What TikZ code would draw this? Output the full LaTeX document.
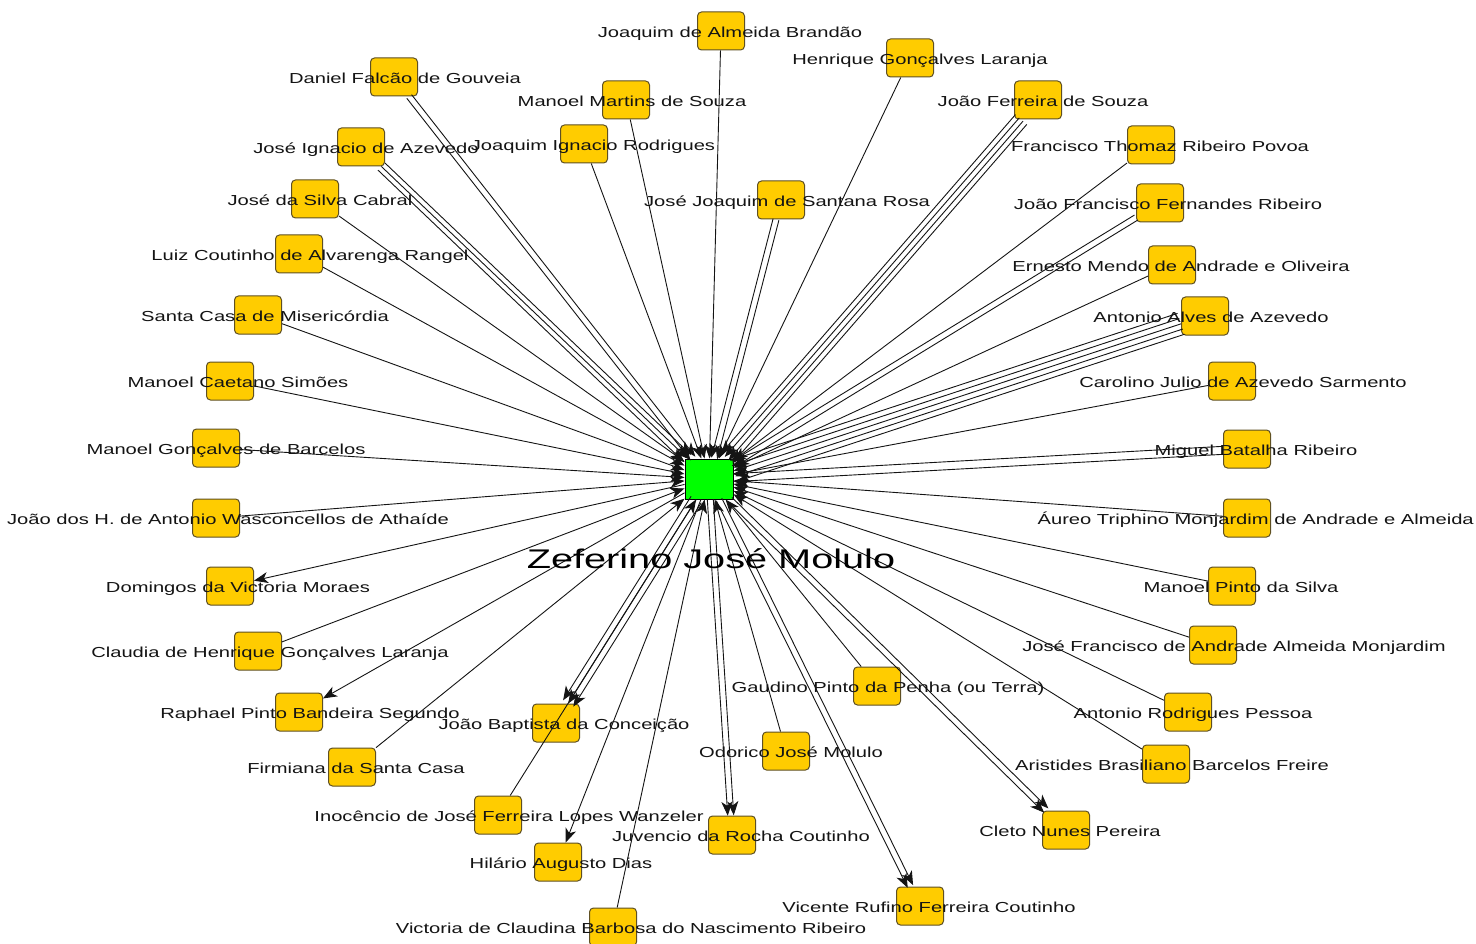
\documentclass[tikz,border=0pt]{standalone}
\usepackage{fontspec}
\setmainfont{Liberation Sans}
\newfontfamily\namefont[FakeStretch=1.39]{Liberation Sans}
\newfontfamily\hubfont[FakeStretch=1.47]{Liberation Sans}
\usetikzlibrary{arrows.meta,calc}

\definecolor{boxfill}{RGB}{255,204,0}
\definecolor{boxline}{RGB}{95,80,35}
\definecolor{hubfill}{RGB}{0,255,0}
\definecolor{ink}{RGB}{20,20,20}

% parallel connectors between two nodes, shifted sideways by the given offsets
\newcommand\bundle[4]{%
  \foreach \o in {#3}{%
    \begin{scope}[transform canvas={shift={($(#1)!\o pt!90:(#2)-(#1)$)}}]
      \draw[#4] (#1) -- (#2);
    \end{scope}}}

% id / box x / box y / label x / name
\def\people{%
almeida/721/31/730/Joaquim de Almeida Brandão,
henrique/910/58/920/Henrique Gonçalves Laranja,
daniel/394/77/405/Daniel Falcão de Gouveia,
martins/626/100/632/Manoel Martins de Souza,
ferreira/1038/100/1043/João Ferreira de Souza,
ignacio/361/147/366/José Ignacio de Azevedo,
rodrigues/584/144/593/Joaquim Ignacio Rodrigues,
thomaz/1151/145/1160/Francisco Thomaz Ribeiro Povoa,
cabral/315/199/320/José da Silva Cabral,
santana/781/200/787/José Joaquim de Santana Rosa,
fernandes/1160/203/1168/João Francisco Fernandes Ribeiro,
luiz/299/254/310/Luiz Coutinho de Alvarenga Rangel,
ernesto/1172/265/1181/Ernesto Mendo de Andrade e Oliveira,
santacasa/258/315/265/Santa Casa de Misericórdia,
alves/1205/316/1211/Antonio Alves de Azevedo,
caetano/230/381/238/Manoel Caetano Simões,
carolino/1232/381/1243/Carolino Julio de Azevedo Sarmento,
barcelos/216/448/226/Manoel Gonçalves de Barcelos,
miguel/1247/449/1256/Miguel Batalha Ribeiro,
athaide/216/518/228/João dos H. de Antonio Wasconcellos de Athaíde,
domingos/230/586/238/Domingos da Victoria Moraes,
pinto/1232/586/1241/Manoel Pinto da Silva,
claudia/258/651/270/Claudia de Henrique Gonçalves Laranja,
monjardim/1213/645/1234/José Francisco de Andrade Almeida Monjardim,
raphael/299/712/310/Raphael Pinto Bandeira Segundo,
gaudino/877/686/888/Gaudino Pinto da Penha (ou Terra),
baptista/556/723/564/João Baptista da Conceição,
pessoa/1188/712/1193/Antonio Rodrigues Pessoa,
odorico/786/751/791/Odorico José Molulo,
firmiana/352/767/356/Firmiana da Santa Casa,
aristides/1166/764/1172/Aristides Brasiliano Barcelos Freire,
inocencio/498/815/509/Inocêncio de José Ferreira Lopes Wanzeler,
juvencio/732/835/741/Juvencio da Rocha Coutinho,
cleto/1066/830/1070/Cleto Nunes Pereira,
hilario/558/862/561/Hilário Augusto Dias,
vicente/920/906/929/Vicente Rufino Ferreira Coutinho,
victoria/613/927/631/Victoria de Claudina Barbosa do Nascimento Ribeiro}

\begin{document}
\begin{tikzpicture}[x=1pt,y=-1pt,
  person/.style={draw=boxline, fill=boxfill, rounded corners=4pt,
    minimum width=47pt, minimum height=38pt, inner sep=0pt, line width=1pt},
  hub/.style={draw=black, fill=hubfill, minimum width=48pt,
    minimum height=40pt, inner sep=0pt, line width=1pt},
  pname/.style={font=\namefont\fontsize{14.5}{15}\selectfont, text=ink,
    inner sep=0pt, text height=11pt, text depth=3pt},
  hubname/.style={font=\hubfont\fontsize{27}{28}\selectfont, text=black,
    inner sep=0pt},
  link/.style={draw=ink, line width=0.9pt},
  tohub/.style={link, -{Stealth[length=14pt,width=11pt,inset=4pt]}},
  fromhub/.style={link, -{Stealth[length=14pt,width=11pt,inset=4pt]}}]
\useasboundingbox (0,0) rectangle (1476,944);
\fill[white] (0,0) rectangle (1476,944);

% boxes
\node[hub] (hub) at (709,479) {};
\foreach \id/\bx/\by/\lx/\txt in \people {
  \node[person] (\id) at (\bx,\by) {};
}
\node[person] (aureo) at (1247,518) {};

% connectors towards the hub
\bundle{almeida}{hub}{0}{tohub}
\bundle{henrique}{hub}{0}{tohub}
\bundle{daniel}{hub}{-3,3}{tohub}
\bundle{martins}{hub}{0}{tohub}
\bundle{ferreira}{hub}{-7.5,-2.5,2.5,7.5}{tohub}
\bundle{ignacio}{hub}{-5,0,5}{tohub}
\bundle{rodrigues}{hub}{0}{tohub}
\bundle{thomaz}{hub}{0}{tohub}
\bundle{cabral}{hub}{0}{tohub}
\bundle{santana}{hub}{-3,3}{tohub}
\bundle{fernandes}{hub}{-3,3}{tohub}
\bundle{luiz}{hub}{0}{tohub}
\bundle{ernesto}{hub}{0}{tohub}
\bundle{santacasa}{hub}{0}{tohub}
\bundle{alves}{hub}{-11,-5.5,0,5.5,11}{tohub}
\bundle{caetano}{hub}{0}{tohub}
\bundle{carolino}{hub}{0}{tohub}
\bundle{barcelos}{hub}{0}{tohub}
\bundle{miguel}{hub}{-4,4}{tohub}
\bundle{athaide}{hub}{0}{tohub}
\bundle{aureo}{hub}{0}{tohub}
\bundle{pinto}{hub}{0}{tohub}
\bundle{claudia}{hub}{0}{tohub}
\bundle{monjardim}{hub}{0}{tohub}
\bundle{gaudino}{hub}{0}{tohub}
\bundle{pessoa}{hub}{0}{tohub}
\bundle{odorico}{hub}{0}{tohub}
\bundle{firmiana}{hub}{0}{tohub}
\bundle{aristides}{hub}{0}{tohub}
\bundle{inocencio}{hub}{0}{tohub}
\bundle{victoria}{hub}{0}{tohub}

% connectors leaving the hub
\bundle{hub}{domingos}{0}{fromhub}
\bundle{hub}{raphael}{0}{fromhub}
\bundle{hub}{baptista}{-6,0,6}{fromhub}
\bundle{hub}{juvencio}{-3,3}{fromhub}
\bundle{hub}{cleto}{-3,3}{fromhub}
\bundle{hub}{hilario}{0}{fromhub}
\bundle{hub}{vicente}{-3,3}{fromhub}

% names
\foreach \id/\bx/\by/\lx/\txt in \people {
  \node[pname] (\id-name) at (\lx,\by+2.5) {\txt};
}
\node[pname, anchor=east] (aureo-name) at (1474,520.5)
  {Áureo Triphino Monjardim de Andrade e Almeida};
\node[hubname] (hub-name) at (711,559) {Zeferino José Molulo};
\end{tikzpicture}
\end{document}
